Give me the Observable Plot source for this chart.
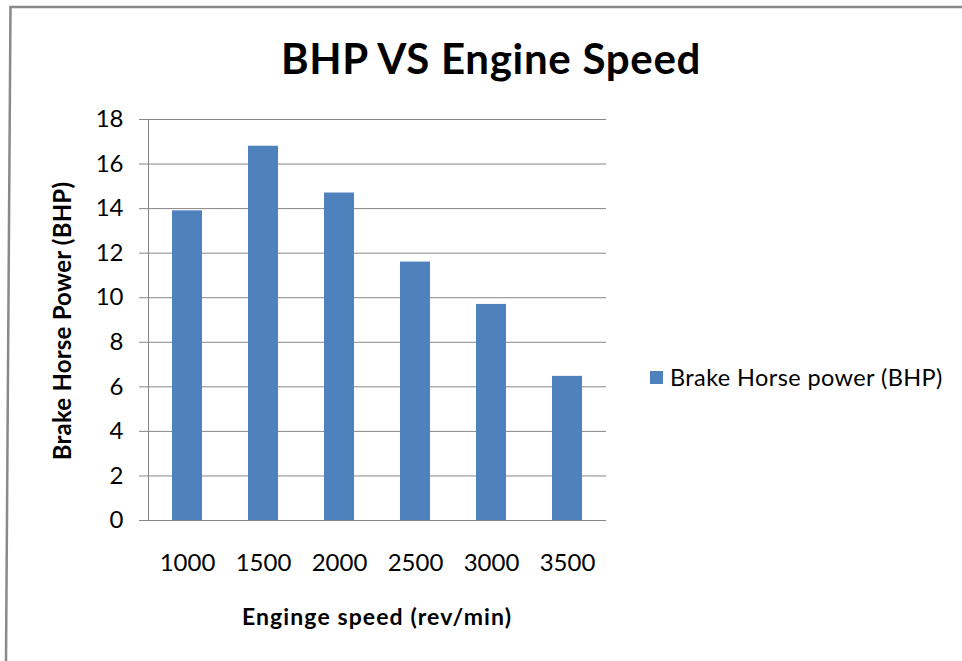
<!DOCTYPE html>
<html>
<head>
<meta charset="utf-8">
<script src="https://cdn.jsdelivr.net/npm/d3@7"></script>
<script src="https://cdn.jsdelivr.net/npm/@observablehq/plot@0.6"></script>
<style>
  html, body { margin: 0; padding: 0; background: #fff; }
  #wrap { position: relative; width: 962px; height: 661px; overflow: hidden; font-family: Lato, "Open Sans", sans-serif; color: #000; }
  #wrap > svg.plot { position: absolute; left: 0; top: 0; }
  .title { position: absolute; left: 0; width: 982px; top: 37px; text-align: center; font-size: 42px; letter-spacing: 0.7px; font-weight: bold; line-height: 1; white-space: nowrap; }
  .xlabel { position: absolute; left: 148px; width: 458px; top: 605px; text-align: center; font-size: 23px; letter-spacing: 1.1px; font-weight: bold; line-height: 1; white-space: nowrap; }
  .ylabel { position: absolute; left: 62px; top: 321px; transform: translate(-50%, -50%) rotate(-90deg); white-space: nowrap; font-size: 24px; letter-spacing: 0.2px; font-weight: bold; line-height: 1; }
  .legend { position: absolute; left: 650px; top: 364px; font-size: 23.5px; letter-spacing: 0.4px; line-height: 26px; white-space: nowrap; display: flex; align-items: center; }
  .legend .sw { width: 13px; height: 13px; margin-right: 7px; display: inline-block; }
  #border { position: absolute; left: 0; top: 0; }
</style>
</head>
<body>
<div id="wrap"></div>
<script>
const titleText = "BHP VS Engine Speed";
const xLabelText = "Enginge speed (rev/min)";
const yLabelText = "Brake Horse Power (BHP)";
const seriesName = "Brake Horse power (BHP)";
const speeds = ["1000", "1500", "2000", "2500", "3000", "3500"];
const bhp = [13.9, 16.8, 14.7, 11.6, 9.7, 6.47];
const yTicks = [0, 2, 4, 6, 8, 10, 12, 14, 16, 18];
const barColor = "#4F81BD";
const lineColor = "#868686";

const data = speeds.map((s, i) => ({speed: s, bhp: bhp[i]}));

const chart = Plot.plot({
  width: 962,
  height: 661,
  marginLeft: 148,
  marginRight: 356,
  marginTop: 119,
  marginBottom: 141,
  style: {fontFamily: "Lato, 'Open Sans', sans-serif", fontSize: "24px", color: "#000", background: "transparent"},
  x: {type: "band", domain: speeds, paddingInner: 0.607, paddingOuter: 0.3035, label: null},
  y: {domain: [0, 18], label: null},
  marks: [
    Plot.gridY(yTicks, {stroke: lineColor, strokeOpacity: 1}),
    Plot.axisY(yTicks, {tickSize: 9, tickPadding: 16, stroke: lineColor, strokeOpacity: 1, fontSize: 24, label: null}),
    Plot.axisX({tickSize: 0, tickPadding: 33, fontSize: 24, label: null}),
    Plot.barY(data, {x: "speed", y: "bhp", fill: barColor}),
    Plot.ruleY([0], {stroke: lineColor}),
    Plot.frame({anchor: "left", stroke: lineColor})
  ]
});
chart.classList.add("plot");

const wrap = document.getElementById("wrap");
wrap.appendChild(chart);

const border = document.createElementNS("http://www.w3.org/2000/svg", "svg");
border.setAttribute("id", "border");
border.setAttribute("width", 962);
border.setAttribute("height", 661);
border.innerHTML = '<polyline points="962,7 10.5,7 6,661" fill="none" stroke="#898989" stroke-width="2.5"/>';
wrap.appendChild(border);

const t = document.createElement("div"); t.className = "title"; t.textContent = titleText; wrap.appendChild(t);
const xl = document.createElement("div"); xl.className = "xlabel"; xl.textContent = xLabelText; wrap.appendChild(xl);
const yl = document.createElement("div"); yl.className = "ylabel"; yl.textContent = yLabelText; wrap.appendChild(yl);
const lg = document.createElement("div"); lg.className = "legend";
lg.innerHTML = '<span class="sw" style="background:' + barColor + '"></span><span></span>';
lg.lastChild.textContent = seriesName;
wrap.appendChild(lg);
</script>
</body>
</html>
